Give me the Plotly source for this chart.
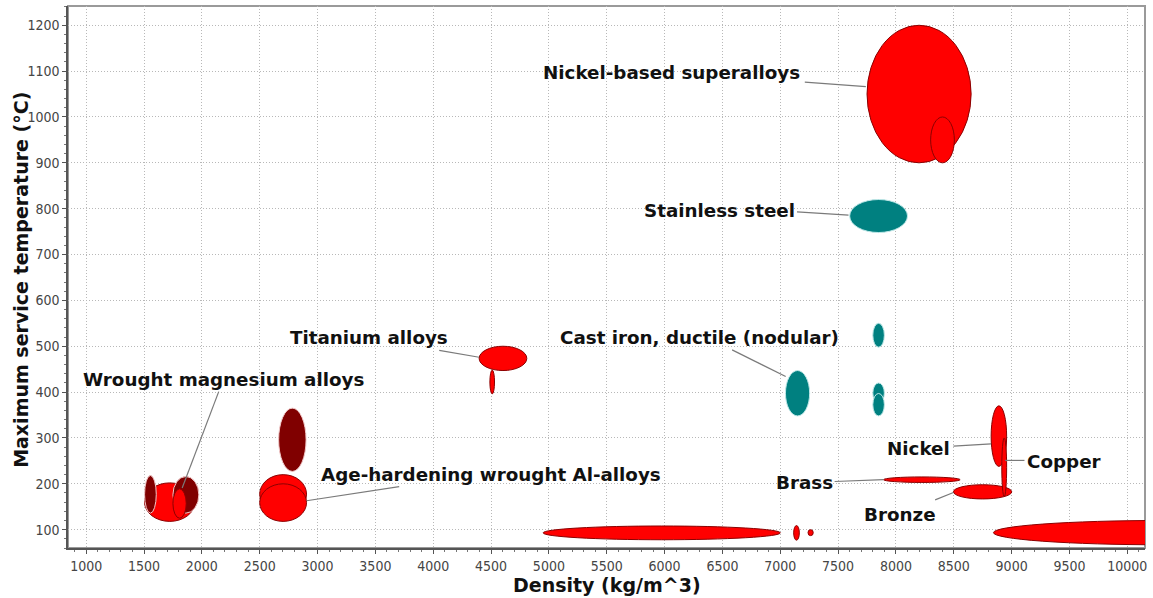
import plotly.graph_objects as go

# Material property bubbles: density range (kg/m^3) and max service temperature range (°C)
bubble_family = [
    "Nickel-based superalloys", "Nickel-based superalloys", "Stainless steel",
    "Titanium alloys", "Titanium alloys",
    "Cast iron, ductile (nodular)", "Cast iron", "Cast iron", "Cast iron",
    "Wrought magnesium alloys", "Magnesium alloys", "Wrought magnesium alloys", "Magnesium alloys",
    "Aluminium alloys", "Age-hardening wrought Al-alloys", "Age-hardening wrought Al-alloys",
    "Zinc alloys", "Tin alloys", "Tin", "Lead alloys",
    "Nickel", "Brass", "Bronze", "Copper",
]
dens_lo = [7750, 8300, 7600, 4397, 4490, 7045, 7800, 7800, 7800,
           1505, 1505, 1750, 1750, 2664, 2500, 2500,
           4950, 7116, 7240, 8843, 8823, 7893, 8497, 8915]
dens_hi = [8650, 8505, 8100, 4809, 4530, 7254, 7900, 7900, 7900,
           1940, 1606, 1974, 1865, 2901, 2905, 2905,
           7001, 7165, 7285, 11755, 8957, 8555, 9001, 8957]
temp_lo = [900, 900, 748, 447, 396, 348, 498, 376, 348,
           118, 136, 136, 125, 227, 135, 118,
           78, 77, 87, 67, 238, 203, 167, 172]
temp_hi = [1200, 1000, 820, 500, 448, 447, 550, 420, 397,
           202, 218, 216, 189, 365, 220, 200,
           108, 109, 100, 120, 370, 215, 198, 300]
bubble_kind = ["nonferrous", "nonferrous", "ferrous", "nonferrous", "nonferrous",
               "ferrous", "ferrous", "ferrous", "ferrous",
               "nonferrous", "light", "light", "nonferrous", "light", "nonferrous", "nonferrous",
               "nonferrous", "nonferrous", "nonferrous", "nonferrous",
               "nonferrous", "nonferrous", "nonferrous", "nonferrous"]

# Labelled families: text anchor (data coords) and leader line from text to bubble
label_text = ["Nickel-based superalloys", "Stainless steel", "Titanium alloys",
              "Cast iron, ductile (nodular)", "Wrought magnesium alloys",
              "Age-hardening wrought Al-alloys", "Nickel", "Copper", "Brass", "Bronze"]
label_x = [6063, 6473, 3447, 6305, 2187, 4498, 8195, 9451, 7209, 8037]
label_y = [1096, 796, 520, 520, 427, 220, 276, 249, 203, 134]
leader_x0 = [7212, 7145, 4052, 6584, 2146, 3706, 8497, 8944, 7470, 8339]
leader_y0 = [1076, 793, 491, 492, 401, 194, 282, 251, 205, 165]
leader_x1 = [7740, 7590, 4397, 7047, 1830, 2905, 8823, 9111, 7893, 8497]
leader_y1 = [1066, 786, 476, 434, 191, 163, 287, 251, 209, 181]

kind_style = {
    "nonferrous": dict(fill="#ff0000", line="#8b0000"),
    "light": dict(fill="#800000", line="#f0c8c8"),
    "ferrous": dict(fill="#008080", line="#bfe8e8"),
}

fig = go.Figure()
fig.add_trace(go.Scatter(x=[], y=[], mode="markers", showlegend=False, hoverinfo="skip"))

shapes = []
for lo_x, hi_x, lo_y, hi_y, kind in zip(dens_lo, dens_hi, temp_lo, temp_hi, bubble_kind):
    st = kind_style[kind]
    shapes.append(dict(type="circle", xref="x", yref="y",
                       x0=lo_x, x1=hi_x, y0=lo_y, y1=hi_y,
                       fillcolor=st["fill"], line=dict(color=st["line"], width=1),
                       layer="above"))

for x0, y0, x1, y1 in zip(leader_x0, leader_y0, leader_x1, leader_y1):
    shapes.append(dict(type="line", xref="x", yref="y", x0=x0, y0=y0, x1=x1, y1=y1,
                       line=dict(color="#7a7a7a", width=1.2), layer="above"))

# plot frame (top/right edges in light grey)
shapes.append(dict(type="rect", xref="paper", yref="paper", x0=0, x1=1, y0=0, y1=1,
                   line=dict(color="#9a9a9a", width=2), layer="below"))

label_font = dict(family="DejaVu Sans", size=18.3, color="#111111")
annotations = []
for txt, lx, ly in zip(label_text, label_x, label_y):
    annotations.append(dict(x=lx, y=ly, xref="x", yref="y", text="<b>%s</b>" % txt,
                            showarrow=False, font=label_font,
                            xanchor="center", yanchor="middle"))

title_font = dict(family="DejaVu Sans", size=19, color="#111111")
annotations.append(dict(x=0.5, y=-0.068, xref="paper", yref="paper",
                        text="<b>Density (kg/m^3)</b>", showarrow=False,
                        font=title_font, xanchor="center", yanchor="middle"))
annotations.append(dict(x=-0.0435, y=0.495, xref="paper", yref="paper",
                        text="<b>Maximum service temperature (°C)</b>", showarrow=False,
                        textangle=-90, font=title_font, xanchor="center", yanchor="middle"))

tick_font = dict(family="DejaVu Sans Condensed, Tahoma, Liberation Sans", size=14, color="#454545")
grid_dash = "1px,2px"

fig.update_layout(
    width=1153, height=598,
    margin=dict(l=68, r=6, t=6, b=50),
    paper_bgcolor="white", plot_bgcolor="white",
    showlegend=False,
    shapes=shapes,
    annotations=annotations,
    xaxis=dict(range=[843, 10153], tick0=1000, dtick=500, tickformat="d",
               showgrid=True, gridcolor="#b8b8b8", griddash=grid_dash, gridwidth=1,
               showline=True, linecolor="#555555", linewidth=1.5,
               ticks="outside", ticklen=4, tickcolor="#555555",
               minor=dict(dtick=100, ticks="outside", ticklen=2, tickcolor="#777777", showgrid=False),
               tickfont=tick_font, zeroline=False, fixedrange=True),
    yaxis=dict(range=[60, 1242], tick0=100, dtick=100, tickformat="d",
               showgrid=True, gridcolor="#b8b8b8", griddash=grid_dash, gridwidth=1,
               showline=True, linecolor="#555555", linewidth=1.5,
               ticks="outside", ticklen=4, tickcolor="#555555",
               minor=dict(dtick=20, ticks="outside", ticklen=2, tickcolor="#777777", showgrid=False),
               tickfont=tick_font, zeroline=False, fixedrange=True),
)

fig.write_html("out.html")
